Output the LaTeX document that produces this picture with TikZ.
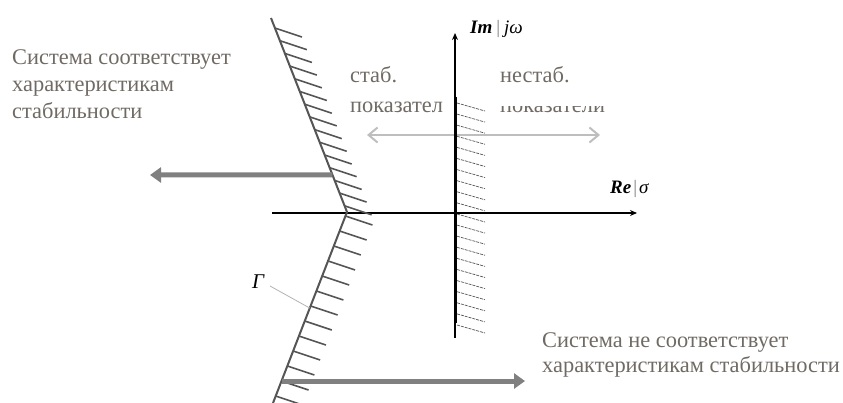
\documentclass[tikz,border=0pt]{standalone}
\usepackage{fontspec}
\setmainfont{Liberation Serif}
\usetikzlibrary{arrows.meta,calc}
\definecolor{txtgray}{RGB}{112,106,100}
\definecolor{gamgray}{RGB}{85,85,85}
\definecolor{bigarrow}{RGB}{128,128,128}
\definecolor{lightarr}{RGB}{190,190,190}
\tikzset{
  lbl/.style={inner sep=0pt,text=txtgray,font=\fontsize{22.4}{27}\selectfont,align=left},
  axislbl/.style={inner sep=0pt,font=\fontsize{19}{21}\selectfont},
  axisline/.style={line width=1.4pt,-{Stealth[length=7pt,width=6pt]}},
  gamline/.style={draw=gamgray,line width=2pt,line join=miter},
  gamhatch/.style={draw=gamgray,line width=1.6pt},
  axhatch/.style={draw=gamgray,line width=0.7pt,dash pattern=on 3pt off 1pt},
  bigarr/.style={draw=bigarrow,line width=5pt,-{Triangle[length=11pt,width=15pt]}},
  lightarr/.style={draw=lightarr,line width=2pt,{Straight Barb[length=9pt,width=15pt]}-{Straight Barb[length=9pt,width=15pt]}}
}
\begin{document}
\begin{tikzpicture}[x=1pt,y=-1pt]
\useasboundingbox (0,0) rectangle (843,403);
% coordinates
\coordinate (GT) at (271,18);
\coordinate (GV) at (347,212);
\coordinate (GB) at (273,403);
\coordinate (HL) at (272,213);
\coordinate (HR) at (637,213);
\coordinate (VB) at (455,338);
\coordinate (VT) at (455,33);
\coordinate (VTk1) at (455,97);
\coordinate (VTk2) at (455,323);
\coordinate (LA1) at (367,135);
\coordinate (LA2) at (600,135);
\coordinate (BA1) at (150,175);
\coordinate (BA2) at (525,381);
% light double arrow
\draw[lightarr] (LA1) -- (LA2);
% axis hatching
\foreach \k in {0,...,20}{
  \draw[axhatch] ($(457,103)+(0,11.1*\k)$) -- ++(28,8);
}
% axes
\draw[axisline] (HL) -- (HR);
\draw[axisline] (VB) -- (VT);
\draw[line width=3pt] (VTk1) -- (VTk2);
% Gamma hatching
\foreach \k in {0,...,14}{
  \pgfmathsetmacro{\t}{(10+12.7*\k)/194}
  \draw[gamhatch] ($(GT)!\t!(GV)$) -- ++(27,9);
}
\foreach \k in {0,...,12}{
  \pgfmathsetmacro{\t}{(4+15*\k)/191}
  \draw[gamhatch] ($(GV)!\t!(GB)$) -- ++(27,9);
}
\draw[gamline] (GT) -- (GV) -- (GB);
% thick arrows
\coordinate (GA1) at ($(GT)!0.809!(GV)$);
\coordinate (GA2) at ($(GV)!0.885!(GB)$);
\draw[bigarr] (GA1) -- (BA1);
\draw[bigarr] (GA2) -- (BA2 |- GA2);
% Gamma label
\node[axislbl,font=\fontsize{21}{23}\selectfont\itshape] (gam) at (258,282) {Γ};
\coordinate (GL) at ($(GV)!0.503!(GB)$);
\draw[gray!60,line width=0.8pt] (270,286) -- (GL);
% axis labels
\node[axislbl,anchor=base west] (im) at (470,34) {\textbf{\textit{Im}}\hspace{4pt}{\color{gray}|}\hspace{4pt}\textit{jω}};
\node[axislbl,anchor=base west] (re) at (610,194) {\textbf{\textit{Re}}\hspace{2pt}{\color{gray}|}\hspace{2pt}\textit{σ}};
% texts
\node[lbl,anchor=base west] (sys1) at (12,119) {Система соответствует\\характеристикам\\стабильности};
\node[lbl,anchor=base west,font=\fontsize{22.4}{30}\selectfont] (stab) at (350,113) {стаб.\\показател};
\begin{scope}
\clip (480,40) rectangle (640,92) (480,106) rectangle (640,120);
\node[lbl,anchor=base west,font=\fontsize{22.4}{30}\selectfont] (nestab) at (500,113) {нестаб.\\показатели};
\end{scope}
\node[lbl,anchor=base west,font=\fontsize{22.4}{25}\selectfont] (sys2) at (542,372) {Система не соответствует\\характеристикам стабильности};
\end{tikzpicture}
\end{document}
